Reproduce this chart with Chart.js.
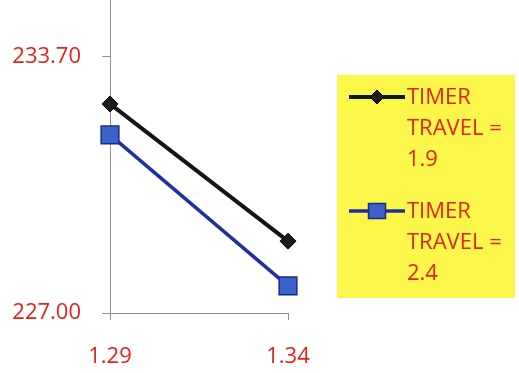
<!DOCTYPE html>
<html>
<head>
<meta charset="utf-8">
<script src="https://cdn.jsdelivr.net/npm/chart.js@4/dist/chart.umd.min.js"></script>
<style>
  html, body { margin: 0; padding: 0; background: #ffffff; }
  #wrap { width: 519px; height: 373px; position: relative; }
</style>
</head>
<body>
<div id="wrap"><canvas id="c" width="519" height="373"></canvas></div>
<script>
// ---- data ----
const categories = ["1.29", "1.34"];
const seriesNames = ["TIMER TRAVEL = 1.9", "TIMER TRAVEL = 2.4"];
const legendLines = [["TIMER", "TRAVEL =", "1.9"], ["TIMER", "TRAVEL =", "2.4"]];
const travel19 = [232.47, 228.88];
const travel24 = [231.66, 227.71];
const yTickValues = [227.00, 233.70];
const yMin = 227.00;
const yMax = 235.19;

const RED = "#e2231a";
const AXIS = "#8e8e8e";
const FONT = "'Open Sans', 'DejaVu Sans', sans-serif";

const legendPlugin = {
  id: "yellowLegend",
  afterDraw(chart) {
    const ctx = chart.ctx;
    ctx.save();
    ctx.fillStyle = "#fbf64a";
    ctx.fillRect(337, 75, 178, 223);
    const entryTops = [97, 211];
    const lineH = 31;
    chart.data.datasets.forEach((ds, i) => {
      const y0 = entryTops[i];
      ctx.strokeStyle = ds.borderColor;
      ctx.lineWidth = ds.borderWidth;
      ctx.beginPath();
      ctx.moveTo(349, y0);
      ctx.lineTo(405, y0);
      ctx.stroke();
      ctx.fillStyle = ds.pointBackgroundColor;
      ctx.strokeStyle = ds.pointBorderColor;
      ctx.lineWidth = ds.pointBorderWidth;
      ctx.beginPath();
      if (ds.pointStyle === 'rect') {
        ctx.rect(377 - 8.5, y0 - 7.5, 17, 15);
      } else {
        const r = 7;
        ctx.moveTo(377 - r, y0); ctx.lineTo(377, y0 - r);
        ctx.lineTo(377 + r, y0); ctx.lineTo(377, y0 + r); ctx.closePath();
      }
      ctx.fill();
      ctx.stroke();
      ctx.fillStyle = RED;
      ctx.font = "22px " + FONT;
      ctx.textAlign = "left";
      ctx.textBaseline = "middle";
      legendLines[i].forEach((t, k) => {
        ctx.fillText(t, 407, y0 + k * lineH + 1);
      });
    });
    ctx.restore();
  }
};

new Chart(document.getElementById("c"), {
  type: "line",
  data: {
    labels: categories,
    datasets: [
      {
        label: seriesNames[0],
        data: travel19,
        borderColor: "#141414",
        borderWidth: 4,
        pointStyle: "rectRot",
        pointRadius: 8,
        pointBackgroundColor: "#1c1c1c",
        pointBorderColor: "#000000",
        pointBorderWidth: 1,
        tension: 0,
        clip: false
      },
      {
        label: seriesNames[1],
        data: travel24,
        borderColor: "#1f2f9e",
        borderWidth: 3.5,
        pointStyle: "rect",
        pointRadius: 12.5,
        pointBackgroundColor: "#3c62cc",
        pointBorderColor: "#1b2a86",
        pointBorderWidth: 1.5,
        tension: 0,
        clip: false
      }
    ]
  },
  options: {
    responsive: false,
    animation: false,
    events: [],
    layout: { autoPadding: false, padding: { left: 0, top: 0, right: 231, bottom: 0 } },
    plugins: { legend: { display: false }, tooltip: { enabled: false } },
    scales: {
      x: {
        type: "category",
        offset: false,
        grid: { display: true, drawOnChartArea: false, drawTicks: true, tickLength: 7, color: AXIS, lineWidth: 1 },
        border: { display: true, color: AXIS, width: 1 },
        ticks: { color: RED, font: { family: FONT, size: 22 }, padding: 24, maxRotation: 0, autoSkip: false },
        afterFit(s) { s.height = 60; s.paddingLeft = 0; s.paddingRight = 0; }
      },
      y: {
        type: "linear",
        min: yMin,
        max: yMax,
        grid: { display: true, drawOnChartArea: false, drawTicks: true, tickLength: 8, color: AXIS, lineWidth: 1 },
        border: { display: true, color: AXIS, width: 1 },
        ticks: {
          color: RED,
          font: { family: FONT, size: 22 },
          padding: 21,
          callback: (v) => Number(v).toFixed(2)
        },
        afterBuildTicks(s) { s.ticks = yTickValues.map(v => ({ value: v })); },
        afterFit(s) { s.width = 110; s.paddingTop = 0; s.paddingBottom = 0; }
      }
    }
  },
  plugins: [legendPlugin]
});
</script>
</body>
</html>
